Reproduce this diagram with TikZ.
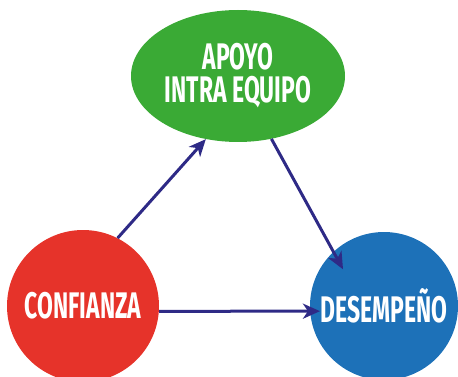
\documentclass[tikz,border=0pt]{standalone}
\usepackage{fontspec}
\usetikzlibrary{shapes.geometric,arrows.meta}
\newfontfamily\condfont[FakeStretch=0.62]{Fira Sans}
\definecolor{cgreen}{HTML}{3AAA35}
\definecolor{cred}{HTML}{E6332A}
\definecolor{cblue}{HTML}{1D71B8}
\definecolor{carrow}{HTML}{2E2A86}
\begin{document}
\begin{tikzpicture}[x=1pt,y=-1pt,
  lbl/.style={text=white,inner sep=0pt,align=center,
    font=\condfont\bfseries\fontsize{37}{33}\selectfont},
  bubble/.style={lbl,circle,minimum size=152pt},
  arr/.style={draw=carrow,line width=3pt,
    -{Stealth[length=17pt,width=15pt,inset=5pt]}}]
\useasboundingbox (0,0) rectangle (458,377);
\node[lbl,ellipse,fill=cgreen,minimum width=214pt,minimum height=132pt] (green) at (238,76) {APOYO\\INTRA EQUIPO};
\node[bubble,fill=cred] (red) at (83,306) {CONFIANZA};
\node[bubble,fill=cblue,minimum size=148pt] (blue) at (384,306) {DESEMPEÑO};
\draw[arr] (red.63) -- (green.243);
\draw[arr,shorten >=-20pt] (green.298) -- (blue.133);
\draw[arr,shorten >=-10pt] (red.-4) -- (blue.184);
\end{tikzpicture}
\end{document}
